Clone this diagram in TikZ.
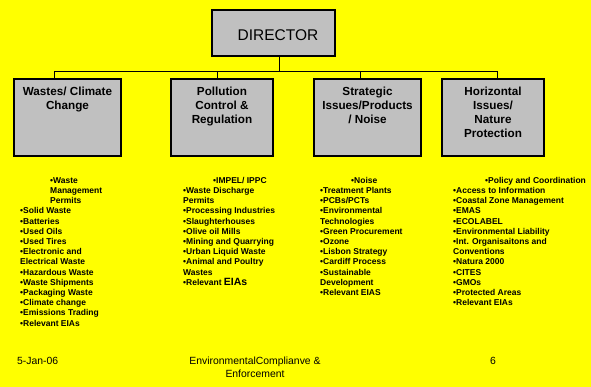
\documentclass[tikz,border=0pt]{standalone}
\usepackage{fontspec}
\setmainfont{Liberation Sans}
\definecolor{bg}{HTML}{FFFF00}
\definecolor{boxgray}{HTML}{C0C0C0}
\begin{document}
\begin{tikzpicture}[x=1pt,y=-1pt,
  orgbox/.style={draw=black, line width=1.4pt, fill=boxgray, inner sep=0, outer sep=0, anchor=north west},
  title/.style={font=\fontsize{11.7}{14}\selectfont\bfseries, align=center, inner sep=0, anchor=north},
  items/.style={font=\fontsize{8.5}{10.2}\selectfont\bfseries, align=left, inner sep=0, anchor=north west},
  foot/.style={font=\fontsize{10.4}{13}\selectfont, inner sep=0},
  link/.style={draw=black, line width=0.8pt}]
\fill[bg] (0,0) rectangle (591,387);
\useasboundingbox (0,0) rectangle (591,387);

% director
\node[orgbox, minimum width=123pt, minimum height=46pt] (dir) at (212,10) {};
\node[font=\fontsize{15.5}{18}\selectfont, inner sep=0] (dirt) at ([xshift=4.5pt,yshift=-2pt]dir.center) {DIRECTOR};

% department boxes
\node[orgbox, minimum width=107pt, minimum height=77pt] (b1) at (14,79) {};
\node[orgbox, minimum width=102pt, minimum height=77pt] (b2) at (171,79) {};
\node[orgbox, minimum width=107pt, minimum height=77pt] (b3) at (314,79) {};
\node[orgbox, minimum width=102pt, minimum height=77pt] (b4) at (442,79) {};

\node[title] (t1) at ([yshift=-7.8pt]b1.north) {Wastes/ Climate\\Change};
\node[title] (t2) at ([yshift=-7.8pt]b2.north) {Pollution\\Control \&\\Regulation};
\node[title] (t3) at ([yshift=-7.8pt]b3.north) {Strategic\\Issues/Products\\/ Noise};
\node[title] (t4) at ([yshift=-7.8pt]b4.north) {Horizontal\\Issues/\\Nature\\Protection};

% connectors
\coordinate (hub) at (279,71);
\coordinate (j1) at (54,71);
\coordinate (j2) at (217.5,71);
\coordinate (j3) at (360,71);
\coordinate (j4) at (497,71);
\draw[link] (dir.south -| hub) -- (hub);
\draw[link] (j1) -- (j4);
\draw[link] (j1) -- (j1 |- b1.north);
\draw[link] (j2) -- (j2 |- b2.north);
\draw[link] (j3) -- (j3 |- b3.north);
\draw[link] (j4) -- (j4 |- b4.north);

% lists
\node[items] (h1) at (50,177) {\textbullet Waste\\Management\\Permits};
\node[items] (l1) at (20,207.6) {\textbullet Solid Waste\\\textbullet Batteries\\\textbullet Used Oils\\\textbullet Used Tires\\\textbullet Electronic and\\Electrical Waste\\\textbullet Hazardous Waste\\\textbullet Waste Shipments\\\textbullet Packaging Waste\\\textbullet Climate change\\\textbullet Emissions Trading\\\textbullet Relevant EIAs};

\node[items] (h2) at (213,177) {\textbullet IMPEL/ IPPC};
\node[items] (l2) at (183,187.2) {\textbullet Waste Discharge\\Permits\\\textbullet Processing Industries\\\textbullet Slaughterhouses\\\textbullet Olive oil Mills\\\textbullet Mining and Quarrying\\\textbullet Urban Liquid Waste\\\textbullet Animal and Poultry\\Wastes\\\textbullet Relevant {\fontsize{10.5}{10.2}\selectfont EIAs}};

\node[items] (h3) at (351,177) {\textbullet Noise};
\node[items] (l3) at (320,187.2) {\textbullet Treatment Plants\\\textbullet PCBs/PCTs\\\textbullet Environmental\\Technologies\\\textbullet Green Procurement\\\textbullet Ozone\\\textbullet Lisbon Strategy\\\textbullet Cardiff Process\\\textbullet Sustainable\\Development\\\textbullet Relevant EIAS};

\node[items] (h4) at (485,177) {\textbullet Policy and Coordination};
\node[items] (l4) at (453,187.2) {\textbullet Access to Information\\\textbullet Coastal Zone Management\\\textbullet EMAS\\\textbullet ECOLABEL\\\textbullet Environmental Liability\\\textbullet Int. Organisaitons and\\Conventions\\\textbullet Natura 2000\\\textbullet CITES\\\textbullet GMOs\\\textbullet Protected Areas\\\textbullet Relevant EIAs};

% footer
\node[foot, anchor=base west] (date) at (17,364) {5-Jan-06};
\node[foot, align=center, anchor=north] (ftitle) at (255,356.4) {EnvironmentalComplianve \&\\Enforcement};
\node[foot, anchor=base] (pg) at (493,364) {6};
\end{tikzpicture}
\end{document}
